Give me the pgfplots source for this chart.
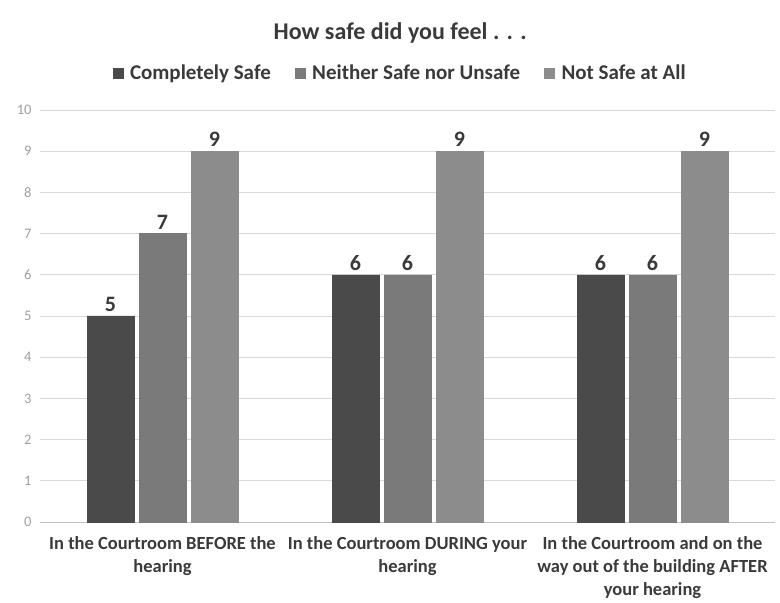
\documentclass[border=0pt]{standalone}
\usepackage{pgfplots}
\pgfplotsset{compat=1.18}
\usepackage{fontspec}
\setmainfont{Carlito}
\definecolor{cA}{HTML}{4A4A4A}
\definecolor{cB}{HTML}{7A7A7A}
\definecolor{cC}{HTML}{8C8C8C}
\definecolor{txt}{HTML}{3A3A3A}
\begin{document}
\begin{tikzpicture}
\begin{axis}[
  at={(0,0)}, anchor=south west,
  scale only axis, width=735pt, height=412pt,
  ybar=5pt, bar width=47pt,
  xmin=-0.5, xmax=2.5, ymin=0, ymax=10,
  ytick={0,1,...,10},
  xtick=data,
  xticklabels={{In the Courtroom BEFORE the\\hearing},{In the Courtroom DURING your\\hearing},{In the Courtroom and on the\\way out of the building AFTER\\your hearing}},
  xticklabel style={align=center, font=\fontsize{18.5}{23}\selectfont\bfseries, text=txt, yshift=-11pt},
  yticklabel style={font=\fontsize{14.5}{15}\selectfont, text=gray!75, xshift=-5pt},
  /pgf/number format/assume math mode=true,
  ymajorgrids, grid style={draw=black!15, line width=0.8pt},
  axis x line*=bottom, axis y line*=left, y axis line style={draw=none},
  x axis line style={draw=black!25, line width=0.8pt, -},
  major tick length=0pt,
  clip=false,
  nodes near coords,
  every node near coord/.append style={font=\fontsize{22}{24}\selectfont\bfseries, text=txt, yshift=1pt},
  legend style={at={(rel axis cs:0.49,1.09)}, anchor=center, draw=none, legend columns=3,
    font=\fontsize{21}{24}\selectfont\bfseries, text=txt,
    /tikz/every odd column/.append style={column sep=5pt},
    /tikz/every even column/.append style={column sep=22pt}},
  legend image code/.code={\fill[#1] (0pt,-5pt) rectangle (10pt,5pt);},
]
\addplot[fill=cA, draw=cA] coordinates {(0,5) (1,6) (2,6)};
\addplot[fill=cB, draw=cB] coordinates {(0,7) (1,6) (2,6)};
\addplot[fill=cC, draw=cC] coordinates {(0,9) (1,9) (2,9)};
\legend{Completely Safe, Neither Safe nor Unsafe, Not Safe at All}
\node[font=\fontsize{24}{26}\selectfont\bfseries, text=txt] at (rel axis cs:0.49,1.187) {How safe did you feel . . .};
\end{axis}
\path[use as bounding box] (-40pt,-81pt) rectangle (740pt,522pt);
\end{tikzpicture}
\end{document}
